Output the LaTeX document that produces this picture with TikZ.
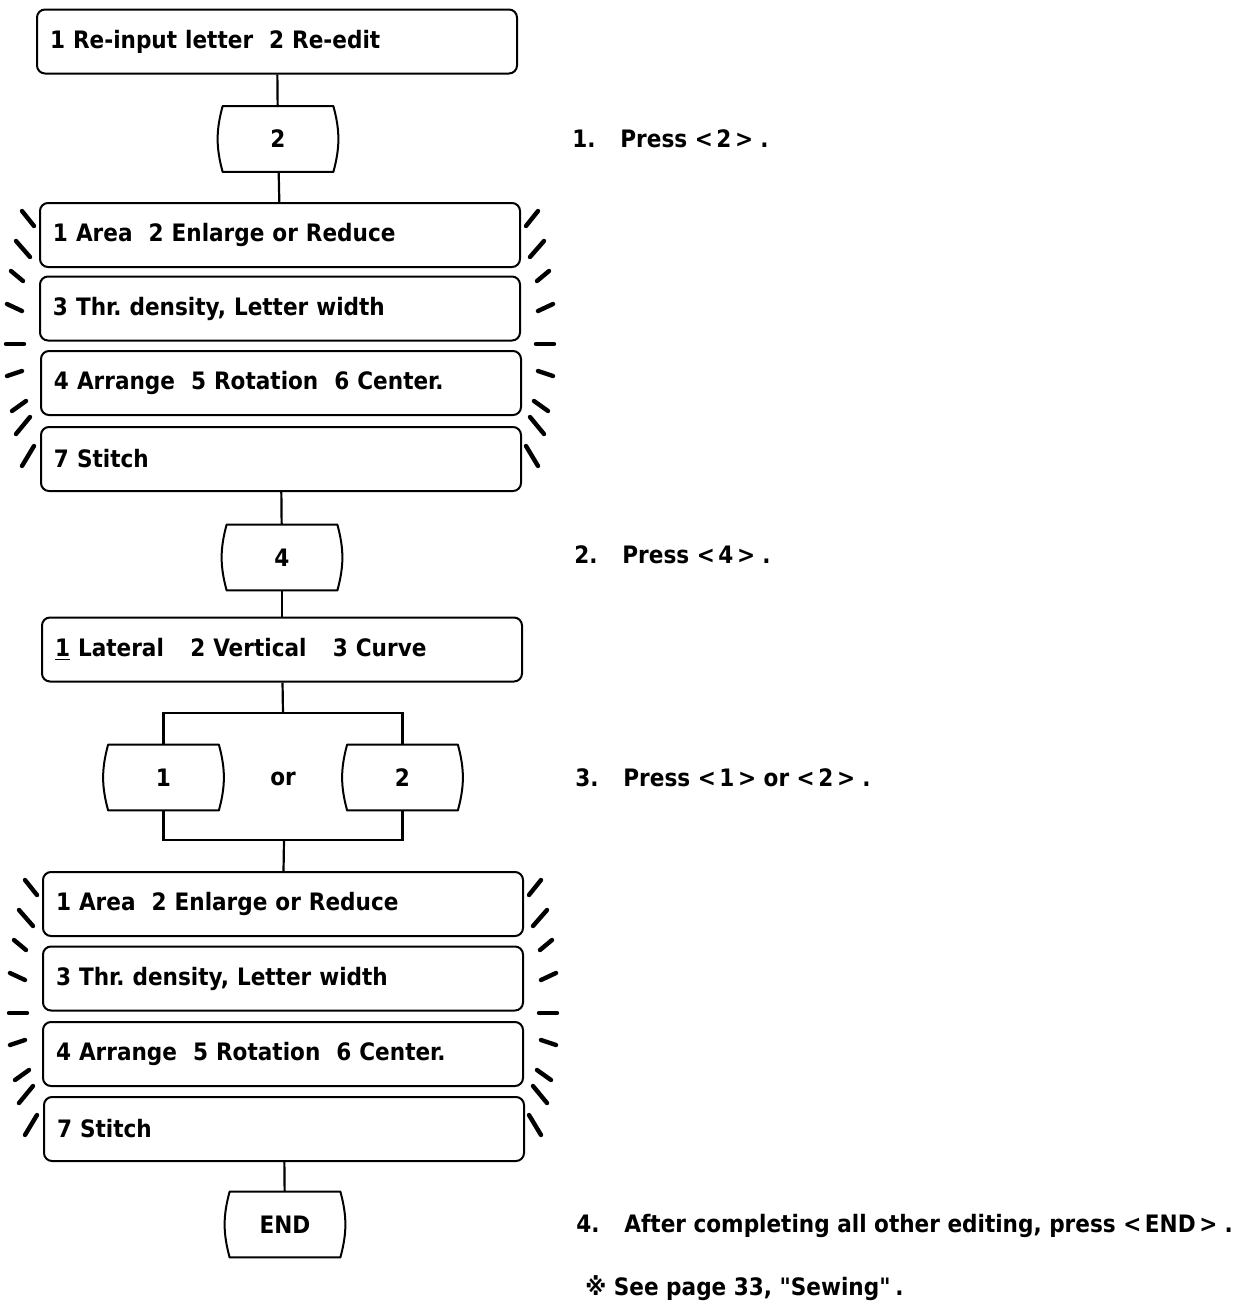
\documentclass[tikz,border=0pt]{standalone}
\usepackage{fontspec}
\setmainfont{DejaVu Sans Condensed Bold}
\frenchspacing
\usetikzlibrary{calc}
\newcommand{\keyref}[1]{<\hspace{0.15em}#1\hspace{0.15em}>}
\newcommand{\instr}[2]{\makebox[24pt][l]{#1}#2}
\tikzset{
 panel/.style={draw,line width=1pt,rounded corners=4pt,text width=227pt,align=left,inner xsep=6.5pt,minimum height=32pt},
 keycap/.style={minimum width=55pt,minimum height=32.5pt,inner sep=0pt},
 wire/.style={line width=1.1pt},
 flash/.style={line width=2.2pt,line cap=round},
 note/.style={anchor=west,inner sep=0pt}
}
\newcommand{\keybtn}[3]{%
 \node[keycap] (#1) at #2 {#3};
 \draw[line width=1pt,line join=round] (#1.north west) -- (#1.north east) to[bend left=15] (#1.south east)
   -- (#1.south west) to[bend left=15] (#1.north west) -- cycle;}
\newcommand{\flashmarks}[1]{%
 \foreach \xa/\ya/\xb/\yb in {17/9/5/24,23/39/9/55,28/69/16/79,32/102/17/109,33/142/15/142,
   32/174/17/169,27/209/13/199,23/232/9/215,17/264/5/244}{
  \draw[flash] ([shift={(-\xa,\ya)}]#1.north west) -- ([shift={(-\xb,\yb)}]#1.north west);
  \draw[flash] ([shift={(\xa,\ya)}]#1.north east) -- ([shift={(\xb,\yb)}]#1.north east);}}
\begin{document}
\begin{tikzpicture}[x=0.5pt,y=-0.5pt,font=\fontsize{12}{14.4}\selectfont]
 \useasboundingbox (0,0) rectangle (1244,1308);
 \node[panel] (menu) at (277,41.5) {1 Re-input letter\ \ 2 Re-edit};
 \keybtn{k2}{(278,139)}{2}
 \node[panel] (e1) at (280,235) {1 Area\ \ 2 Enlarge or Reduce};
 \node[panel] (e2) at (280,308.5) {3 Thr. density, Letter width};
 \node[panel] (e3) at (281,383) {4 Arrange\ \ 5 Rotation\ \ 6 Center.};
 \node[panel] (e4) at (281,459) {7 Stitch};
 \flashmarks{e1}
 \keybtn{k4}{(282,557.5)}{4}
 \node[panel] (arr) at (282,649.5) {\underline{1} Lateral\hspace{1.1em}2 Vertical\hspace{1.1em}3 Curve};
 \coordinate (fork) at (283,713);
 \keybtn{ka}{(163.5,777.5)}{1}
 \keybtn{kb}{(402.5,777.5)}{2}
 \node (or) at (283,779) {or};
 \coordinate (join) at (284,840);
 \node[panel] (f1) at (283,904) {1 Area\ \ 2 Enlarge or Reduce};
 \node[panel] (f2) at (283,978.5) {3 Thr. density, Letter width};
 \node[panel] (f3) at (283,1054) {4 Arrange\ \ 5 Rotation\ \ 6 Center.};
 \node[panel] (f4) at (284,1129) {7 Stitch};
 \flashmarks{f1}
 \keybtn{kend}{(285,1224.5)}{END}
 \draw[wire] (menu) -- (k2);
 \draw[wire] (k2) -- (e1);
 \draw[wire] (e4) -- (k4);
 \draw[wire] (k4) -- (arr);
 \draw[wire] (arr) -- (fork);
 \draw[wire] (ka) |- (fork) -| (kb);
 \draw[wire] (ka) |- (join) -| (kb);
 \draw[wire] (join) -- (f1);
 \draw[wire] (f4) -- (kend);
 \node[note] (s1) at (572,139) {\instr{1.}{Press \keyref{2}\hspace{0.3em}.}};
 \node[note] (s2) at (574,555) {\instr{2.}{Press \keyref{4}\hspace{0.3em}.}};
 \node[note] (s3) at (575,778) {\instr{3.}{Press \keyref{1} or \keyref{2}\hspace{0.3em}.}};
 \node[note] (s4) at (576,1226) {\instr{4.}{After completing all other editing, press \keyref{END}\hspace{0.3em}.}};
 \node[note] (s5) at (585,1288) {※ See page 33, \textquotedbl Sewing\textquotedbl\hspace{0.2em}.};
\end{tikzpicture}
\end{document}
